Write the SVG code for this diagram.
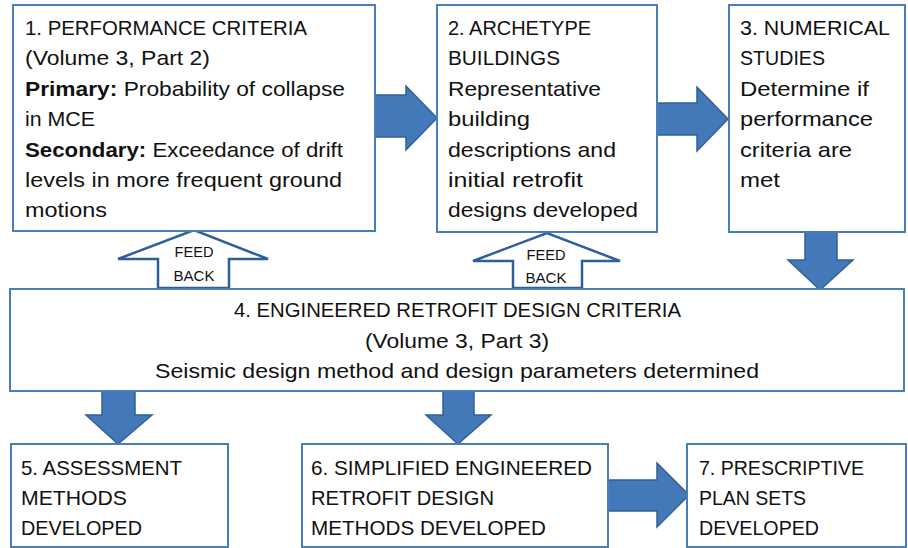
<svg xmlns="http://www.w3.org/2000/svg" width="908" height="548" viewBox="0 0 908 548">
<style>
.box{fill:#fff;stroke:#4a7ebb;stroke-width:2}
.arr{fill:#4378b9;stroke:#335f92;stroke-width:1.5}
.fb{fill:#fff;stroke:#2f5f98;stroke-width:2.5}
text{font-family:"Liberation Sans",Arial,sans-serif;font-size:21px;fill:#111}
.b{font-weight:bold}
.f{font-size:15px}
</style>
<rect width="908" height="548" fill="#fff"/>
<g id="connectors">
<polygon class="arr" points="375,95 406,95 406,86 437,118 406,150 406,137 375,137"/>
<polygon class="arr" points="657,103 697,103 697,87 728,119 697,151 697,135 657,135"/>
<polygon class="arr" points="805,232 837,232 837,260 853,260 820,290 788,260 805,260"/>
<polygon class="arr" points="102,391 135,391 135,415 152,415 118,444 86,415 102,415"/>
<polygon class="arr" points="443,391 474,391 474,415 491,415 458,444 426,415 443,415"/>
<polygon class="arr" points="608,480 657,480 657,463 689,495 657,527 657,511 608,511"/>
<g id="feedback1">
<polygon class="fb" points="158,288 158,259 118,259 194,230 268,259 229,259 229,288"/>
<text class="f" x="194" y="257" text-anchor="middle" textLength="39" lengthAdjust="spacingAndGlyphs">FEED</text>
<text class="f" x="194" y="281" text-anchor="middle" textLength="41" lengthAdjust="spacingAndGlyphs">BACK</text>
</g>
<g id="feedback2">
<polygon class="fb" points="513,288 513,261 473,261 547,233 620,261 582,261 582,288"/>
<text class="f" x="546" y="260" text-anchor="middle" textLength="39" lengthAdjust="spacingAndGlyphs">FEED</text>
<text class="f" x="546" y="283" text-anchor="middle" textLength="41" lengthAdjust="spacingAndGlyphs">BACK</text>
</g>
</g>
<g id="node1">
<rect class="box" x="13" y="5" width="362" height="226"/>
<text x="25" y="35" textLength="282" lengthAdjust="spacingAndGlyphs">1. PERFORMANCE CRITERIA</text>
<text x="25" y="65" textLength="185" lengthAdjust="spacingAndGlyphs">(Volume 3, Part 2)</text>
<text x="25" y="96" textLength="320" lengthAdjust="spacingAndGlyphs"><tspan class="b">Primary:</tspan> Probability of collapse</text>
<text x="25" y="126" textLength="70" lengthAdjust="spacingAndGlyphs">in MCE</text>
<text x="25" y="157" textLength="318" lengthAdjust="spacingAndGlyphs"><tspan class="b">Secondary:</tspan> Exceedance of drift</text>
<text x="25" y="187" textLength="317" lengthAdjust="spacingAndGlyphs">levels in more frequent ground</text>
<text x="25" y="217" textLength="82" lengthAdjust="spacingAndGlyphs">motions</text>
</g>
<g id="node2">
<rect class="box" x="437" y="5" width="220" height="227"/>
<text x="448" y="35" textLength="143" lengthAdjust="spacingAndGlyphs">2. ARCHETYPE</text>
<text x="448" y="65" textLength="112" lengthAdjust="spacingAndGlyphs">BUILDINGS</text>
<text x="448" y="96" textLength="153" lengthAdjust="spacingAndGlyphs">Representative</text>
<text x="448" y="126" textLength="82" lengthAdjust="spacingAndGlyphs">building</text>
<text x="448" y="157" textLength="168" lengthAdjust="spacingAndGlyphs">descriptions and</text>
<text x="448" y="187" textLength="135" lengthAdjust="spacingAndGlyphs">initial retrofit</text>
<text x="448" y="217" textLength="190" lengthAdjust="spacingAndGlyphs">designs developed</text>
</g>
<g id="node3">
<rect class="box" x="729" y="5" width="176" height="227"/>
<text x="740" y="35" textLength="150" lengthAdjust="spacingAndGlyphs">3. NUMERICAL</text>
<text x="740" y="65" textLength="85" lengthAdjust="spacingAndGlyphs">STUDIES</text>
<text x="740" y="96" textLength="129" lengthAdjust="spacingAndGlyphs">Determine if</text>
<text x="740" y="126" textLength="133" lengthAdjust="spacingAndGlyphs">performance</text>
<text x="740" y="157" textLength="112" lengthAdjust="spacingAndGlyphs">criteria are</text>
<text x="740" y="187" textLength="40" lengthAdjust="spacingAndGlyphs">met</text>
</g>
<g id="node4">
<rect class="box" x="10" y="289" width="894" height="102"/>
<text x="457.5" y="317" text-anchor="middle" textLength="447" lengthAdjust="spacingAndGlyphs">4. ENGINEERED RETROFIT DESIGN CRITERIA</text>
<text x="457" y="348" text-anchor="middle" textLength="184" lengthAdjust="spacingAndGlyphs">(Volume 3, Part 3)</text>
<text x="457" y="378" text-anchor="middle" textLength="604" lengthAdjust="spacingAndGlyphs">Seismic design method and design parameters determined</text>
</g>
<g id="node5">
<rect class="box" x="11" y="444" width="217" height="103"/>
<text x="21" y="475" textLength="161" lengthAdjust="spacingAndGlyphs">5. ASSESSMENT</text>
<text x="21" y="505" textLength="106" lengthAdjust="spacingAndGlyphs">METHODS</text>
<text x="21" y="535" textLength="121" lengthAdjust="spacingAndGlyphs">DEVELOPED</text>
</g>
<g id="node6">
<rect class="box" x="302" y="444" width="306" height="103"/>
<text x="311" y="475" textLength="281" lengthAdjust="spacingAndGlyphs">6. SIMPLIFIED ENGINEERED</text>
<text x="311" y="505" textLength="183" lengthAdjust="spacingAndGlyphs">RETROFIT DESIGN</text>
<text x="311" y="535" textLength="235" lengthAdjust="spacingAndGlyphs">METHODS DEVELOPED</text>
</g>
<g id="node7">
<rect class="box" x="687" y="444" width="219" height="103"/>
<text x="699" y="475" textLength="165" lengthAdjust="spacingAndGlyphs">7. PRESCRIPTIVE</text>
<text x="699" y="505" textLength="107" lengthAdjust="spacingAndGlyphs">PLAN SETS</text>
<text x="699" y="535" textLength="120" lengthAdjust="spacingAndGlyphs">DEVELOPED</text>
</g>
</svg>
